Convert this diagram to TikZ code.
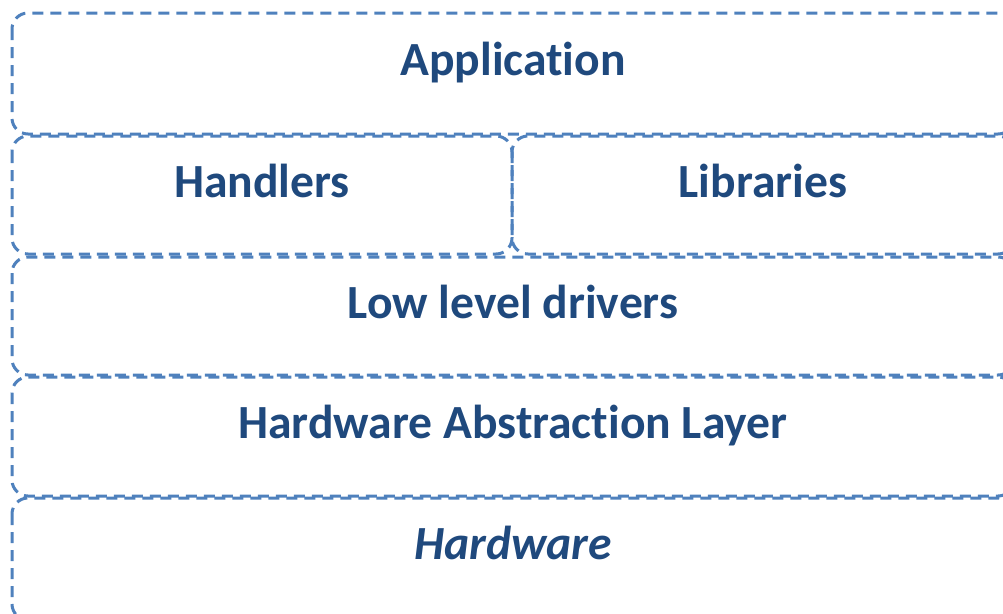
\documentclass[tikz,border=0pt]{standalone}
\usepackage{fontspec}
\setmainfont[Ligatures=NoCommon,RawFeature={-liga;-calt;-dlig}]{Carlito}
\definecolor{edgeblue}{HTML}{4F81BD}
\definecolor{textblue}{HTML}{1F497D}
\begin{document}
\begin{tikzpicture}[x=1pt,y=-1pt,
  layer/.style={draw=edgeblue, line width=3pt, dash pattern=on 11pt off 7pt, rounded corners=16pt},
  lbl/.style={anchor=base, text=textblue, font=\fontsize{47.6}{50}\selectfont\bfseries, inner sep=0pt}]
\useasboundingbox (0,0) rectangle (1003,613);
\clip (0,0) rectangle (1003,613);
\draw[layer] (12,13) rectangle (1014,134);
\draw[layer] (12,136) rectangle (512,254);
\draw[layer] (512,136) rectangle (1014,254);
\draw[layer] (12,257) rectangle (1014,375);
\draw[layer] (12,377) rectangle (1014,496);
\draw[layer] (12,498) rectangle (1014,620);
\node[lbl] (app) at (513,75) {Applicat\kern0pt ion};
\node[lbl] (hand) at (262,197) {Handlers};
\node[lbl] (lib) at (763,197) {Libraries};
\node[lbl] (lld) at (513,318) {Low level drivers};
\node[lbl] (hal) at (513,438) {Hardware Abstract\kern0pt ion Layer};
\node[lbl, font=\fontsize{47.6}{50}\selectfont\bfseries\itshape] (hw) at (513,559) {Hardware};
\end{tikzpicture}
\end{document}
